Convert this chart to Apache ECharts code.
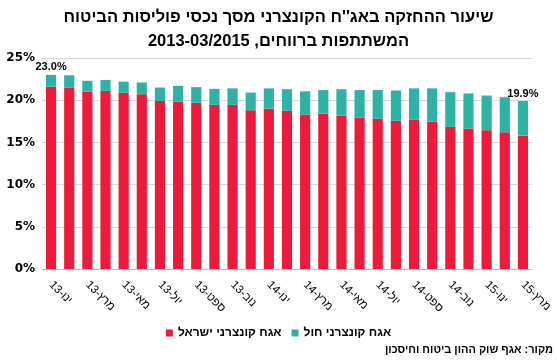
<!DOCTYPE html>
<html>
<head>
<meta charset="utf-8">
<script src="https://cdn.jsdelivr.net/npm/echarts@6/dist/echarts.min.js"></script>
<style>
html,body{margin:0;padding:0;background:#fff}
#c{width:557px;height:364px}
</style>
</head>
<body>
<div id="c" dir="rtl"></div>
<script>
var titleLine1 = "שיעור ההחזקה באג''ח הקונצרני מסך נכסי פוליסות הביטוח";
var titleLine2 = "המשתתפות ברווחים, 2013-03/2015";
var sourceText = "מקור: אגף שוק ההון ביטוח וחיסכון";
var seriesNames = ["אגח קונצרני ישראל", "אגח קונצרני חול"];

var categories = [
  "ינו-13","פבר-13","מרץ-13","אפר-13","מאי-13","יונ-13","יול-13","אוג-13","ספט-13","אוק-13","נוב-13","דצמ-13",
  "ינו-14","פבר-14","מרץ-14","אפר-14","מאי-14","יונ-14","יול-14","אוג-14","ספט-14","אוק-14","נוב-14","דצמ-14",
  "ינו-15","פבר-15","מרץ-15"
];
var israelValues = [21.6,21.5,21.0,21.1,20.9,20.7,19.9,19.85,19.7,19.45,19.45,18.8,19.0,18.75,18.3,18.4,18.2,17.95,17.8,17.55,17.7,17.45,16.85,16.65,16.45,16.2,15.8];
var foreignValues = [1.4,1.45,1.3,1.3,1.3,1.4,1.6,1.85,1.85,1.9,1.95,2.1,2.4,2.55,2.75,2.8,3.1,3.25,3.4,3.6,3.7,3.95,4.1,4.15,4.1,4.15,4.1];
var yTicks = [0, 5, 10, 15, 20, 25];

var last = categories.length - 1;
var foreignData = foreignValues.map(function (v, i) {
  var show = (i === 0 || i === last);
  return {
    value: v,
    label: {
      show: show,
      position: 'top',
      distance: 2,
      formatter: function () { return (israelValues[i] + foreignValues[i]).toFixed(1) + '%'; },
      fontFamily: 'Arial',
      fontWeight: 'bold',
      fontSize: 11,
      color: '#000'
    }
  };
});

var chart = echarts.init(document.getElementById('c'), null, {renderer: 'canvas'});
chart.setOption({
  animation: false,
  backgroundColor: '#fff',
  title: {
    text: titleLine1 + '\n' + titleLine2,
    left: 'center',
    top: 0,
    textStyle: {fontFamily: 'Arial', fontWeight: 'bold', fontSize: 16.5, lineHeight: 24, color: '#000'}
  },
  legend: {
    data: seriesNames,
    top: 322,
    left: 'center',
    icon: 'rect',
    itemWidth: 7,
    itemHeight: 7,
    itemGap: 10,
    textStyle: {fontFamily: 'Arial', fontWeight: 'bold', fontSize: 12, color: '#000'}
  },
  graphic: [{
    type: 'text',
    right: 4,
    top: 344,
    style: {text: sourceText, fontFamily: 'Arial', fontWeight: 'bold', fontSize: 11, fill: '#000'}
  }],
  grid: {left: 42, right: 25, top: 58, bottom: 95, containLabel: false},
  xAxis: {
    type: 'category',
    data: categories,
    axisTick: {show: false},
    axisLine: {lineStyle: {color: '#BFBFBF', width: 1}},
    axisLabel: {interval: 1, rotate: -45, margin: 14, fontFamily: 'Arial', fontSize: 11.5, color: '#000'}
  },
  yAxis: {
    type: 'value',
    min: yTicks[0],
    max: yTicks[yTicks.length - 1],
    interval: yTicks[1] - yTicks[0],
    axisLine: {show: false},
    axisTick: {show: false},
    splitLine: {lineStyle: {color: '#D9D9D9', width: 1}},
    axisLabel: {formatter: '{value}%', fontFamily: 'DejaVu Sans', fontWeight: 'bold', fontSize: 12, color: '#000', margin: 7}
  },
  series: [
    {name: seriesNames[0], type: 'bar', stack: 'tot', data: israelValues, barCategoryGap: '44%', itemStyle: {color: '#ED1A3B'}},
    {name: seriesNames[1], type: 'bar', stack: 'tot', data: foreignData, barCategoryGap: '44%', itemStyle: {color: '#2DB2A3'}}
  ]
});
</script>
</body>
</html>
